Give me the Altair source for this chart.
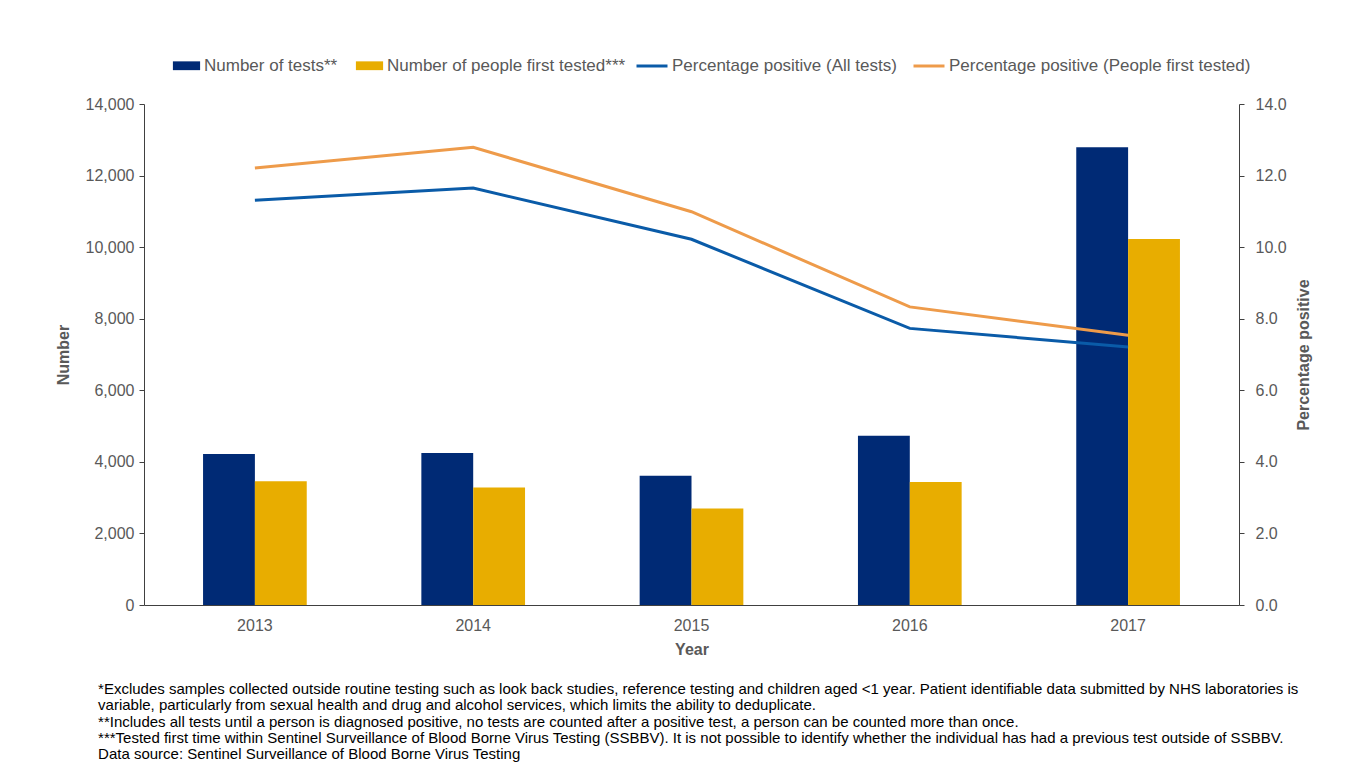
import altair as alt
import pandas as pd

years = ["2013", "2014", "2015", "2016", "2017"]
tests = [4220, 4250, 3610, 4730, 12790]
first_tested = [3460, 3280, 2700, 3440, 10230]
pct_all = [11.31, 11.65, 10.22, 7.73, 7.21]
pct_first = [12.21, 12.79, 10.99, 8.33, 7.54]

bar_names = ["Number of tests**", "Number of people first tested***"]
line_names = ["Percentage positive (All tests)", "Percentage positive (People first tested)"]
bar_colors = ["#002A75", "#E8AD00"]
line_colors = ["#0A5BA8", "#EE9B4A"]

footnotes = [
    "*Excludes samples collected outside routine testing such as look back studies, reference testing and children aged <1 year. Patient identifiable data submitted by NHS laboratories is",
    "variable, particularly from sexual health and drug and alcohol services, which limits the ability to deduplicate.",
    "**Includes all tests until a person is diagnosed positive, no tests are counted after a positive test, a person can be counted more than once.",
    "***Tested first time within Sentinel Surveillance of Blood Borne Virus Testing (SSBBV). It is not possible to identify whether the individual has had a previous test outside of SSBBV.",
    " Data source: Sentinel Surveillance of Blood Borne Virus Testing",
]

bar_rows = []
for i, y in enumerate(years):
    bar_rows.append({"year": y, "series": bar_names[0], "value": tests[i]})
    bar_rows.append({"year": y, "series": bar_names[1], "value": first_tested[i]})
bar_df = pd.DataFrame(bar_rows)

line_rows = []
for i, y in enumerate(years):
    line_rows.append({"year": y, "series": line_names[0], "pct": pct_all[i]})
    line_rows.append({"year": y, "series": line_names[1], "pct": pct_first[i]})
line_df = pd.DataFrame(line_rows)

FONT = "Liberation Sans"
GREY = "#595959"

x_enc = alt.X(
    "year:N",
    title="Year",
    scale=alt.Scale(paddingInner=0.525, paddingOuter=0.2705),
    axis=alt.Axis(labelAngle=0, ticks=False, labelPadding=12, domainColor="#404040",
                  titlePadding=8),
)

bars = alt.Chart(bar_df).mark_bar().encode(
    x=x_enc,
    xOffset=alt.XOffset("series:N", sort=bar_names),
    y=alt.Y(
        "value:Q",
        title="Number",
        scale=alt.Scale(domain=[0, 14000]),
        axis=alt.Axis(orient="left", values=list(range(0, 14001, 2000)), format=",.0f",
                      grid=False, labelPadding=5, titlePadding=14),
    ),
    color=alt.Color(
        "series:N",
        scale=alt.Scale(domain=bar_names, range=bar_colors),
        legend=alt.Legend(
            title=None, orient="none", direction="horizontal", legendX=34, legendY=-47,
            symbolType="M-1.7,-0.55H1.7V0.55H-1.7Z", symbolSize=256,
            symbolStrokeWidth=0, labelOffset=9, columnPadding=17,
        ),
    ),
)

lines = alt.Chart(line_df).mark_line(strokeWidth=3).encode(
    x=alt.X("year:N"),
    y=alt.Y(
        "pct:Q",
        title="Percentage positive",
        scale=alt.Scale(domain=[0, 14]),
        axis=alt.Axis(orient="right", values=list(range(0, 15, 2)), format=".1f",
                      grid=False, titleAngle=270, labelPadding=11, titlePadding=25),
    ),
    color=alt.Color(
        "series:N",
        scale=alt.Scale(domain=line_names, range=line_colors),
        legend=alt.Legend(
            title=None, orient="none", direction="horizontal", legendX=491, legendY=-55,
            symbolType="stroke", symbolSize=961, symbolStrokeWidth=3,
        ),
    ),
)

chart = (
    alt.layer(bars, lines)
    .resolve_scale(y="independent", color="independent")
    .properties(
        width=1095,
        height=501,
        padding={"left": 47, "top": 41, "right": 5, "bottom": 5},
        title=alt.TitleParams(
            text=footnotes, orient="bottom", anchor="start", fontSize=15, font=FONT,
            fontWeight="normal", color="#000000", lineHeight=16.3, offset=25, dx=43,
        ),
    )
    .configure(font=FONT)
    .configure_view(stroke=None)
    .configure_axis(
        labelFont=FONT, labelFontSize=16, labelColor=GREY,
        titleFont=FONT, titleFontSize=16, titleColor=GREY, titleFontWeight="bold",
        domainColor="#404040", tickColor="#404040", tickSize=5,
    )
    .configure_legend(
        labelFont=FONT, labelFontSize=17, labelColor=GREY, labelOffset=3,
        columnPadding=10, padding=0, symbolOpacity=1, labelLimit=0,
    )
)

chart.save("out.html", embed_options={"renderer": "svg", "actions": False})
